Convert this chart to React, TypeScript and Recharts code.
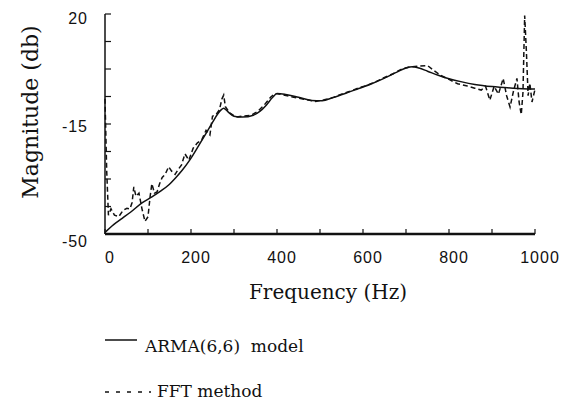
import { LineChart, Line, XAxis, YAxis, Legend } from 'recharts'

// ARMA(6,6) model curve
const armaFreq = [0, 20, 40, 60, 86, 109, 130, 148, 165, 179, 197, 215, 235, 250, 262, 270, 276, 285, 300, 320, 345, 360, 375, 390, 400, 420, 450, 480, 505, 530, 560, 590, 620, 650, 680, 700, 715, 730, 750, 775, 800, 830, 860, 900, 950, 1000]
const armaMag = [-49.5, -47, -45, -43, -40.1, -38.2, -36.3, -34.4, -32, -29.8, -26.5, -22.5, -18, -14.5, -11.8, -10.5, -10, -11, -12.5, -12.8, -12.2, -11, -9, -6.5, -5.3, -5.6, -6.5, -7.5, -7.6, -6.6, -5.2, -3.7, -2.2, -0.4, 1.6, 2.8, 3.2, 2.8, 1.8, 0.5, -0.6, -1.6, -2.4, -3.1, -3.6, -3.9]

// FFT method estimate
const fftFreq = [0, 4, 8, 14, 22, 32, 42, 51, 58, 63, 67, 72, 79, 86, 93, 100, 105, 109, 115, 121, 127, 133, 140, 148, 155, 163, 170, 178, 186, 195, 205, 215, 225, 235, 244, 250, 258, 266, 272, 276, 280, 290, 305, 320, 340, 355, 370, 385, 395, 410, 430, 450, 470, 490, 510, 530, 550, 570, 590, 610, 630, 650, 670, 690, 710, 730, 750, 765, 780, 800, 820, 840, 860, 875, 885, 895, 905, 915, 926, 934, 942, 950, 958, 963, 968, 972, 976, 980, 984, 988, 993, 1000]
const fftMag = [-7, -30, -44, -42, -44, -44.5, -42.5, -41.8, -42, -40, -35, -38, -37, -42, -46, -44.5, -38, -34, -37, -36.6, -34, -32, -31, -28.6, -30, -31, -29.5, -28, -24.5, -26.5, -22.7, -21, -20, -17, -18.5, -12.5, -12, -10.5, -7, -5.8, -9.5, -11.5, -12.8, -12.5, -12.2, -11, -9, -6.5, -5.3, -5.6, -6.2, -6.8, -7.3, -7.8, -7.3, -6.6, -5.5, -4.6, -3.5, -2.7, -1.5, -0.2, 1, 2.5, 3.2, 3.4, 3.6, 2, 0.5, -0.8, -2.2, -2.8, -3.6, -4.2, -3, -7.4, -3, -5.5, -0.5, -6, -9.6, -4.5, -0.5, -8, -12, -5, 19.5, 8, -6, -2, -8, -4]

const xTicks = [0, 100, 200, 300, 400, 500, 600, 700, 800, 900, 1000]
const xLabelled = [0, 200, 400, 600, 800, 1000]
const yTicks = [20, 11.25, 2.5, -6.25, -15, -23.75, -32.5, -41.25, -50]
const yLabelled = [20, -15, -50]

const ink = '#111'
const serif = '"DejaVu Serif", serif'
const sans = '"Liberation Sans", Arial, sans-serif'

const armaData = armaFreq.map((f, i) => ({ freq: f, arma: armaMag[i] }))
const fftData = fftFreq.map((f, i) => ({ freq: f, fft: fftMag[i] }))

// inward tick marks, labels only on some of them
function BottomTick({ x, y, payload }: any) {
  const v = payload.value
  return (
    <g>
      <line x1={x} y1={y} x2={x} y2={y - 5} stroke={ink} strokeWidth={1.2} />
      {xLabelled.includes(v) && (
        <text x={x + 5} y={y + 29} textAnchor="middle" fontFamily={sans} fontSize={16} letterSpacing={1} fill={ink}>
          {v}
        </text>
      )}
    </g>
  )
}

function TopTick({ x, y }: any) {
  return <line x1={x} y1={y} x2={x} y2={y + 4} stroke={ink} strokeWidth={1.2} />
}

function LeftTick({ x, y, payload }: any) {
  const v = payload.value
  const dy = v === -50 ? 13 : v === 20 ? 10 : 8
  return (
    <g>
      <line x1={x} y1={y} x2={x + 6} y2={y} stroke={ink} strokeWidth={1.2} />
      {yLabelled.includes(v) && (
        <text x={x - 17} y={y + dy} textAnchor="end" fontFamily={sans} fontSize={16} letterSpacing={1} fill={ink}>
          {v}
        </text>
      )}
    </g>
  )
}

function RightTick({ x, y }: any) {
  return <line x1={x} y1={y} x2={x - 6} y2={y} stroke={ink} strokeWidth={1.2} />
}

function XTitle({ viewBox }: any) {
  const { x, y, width } = viewBox
  return (
    <text x={x + width / 2 + 8} y={y + 65} textAnchor="middle" fontFamily={serif} fontSize={20} fill={ink}>
      Frequency (Hz)
    </text>
  )
}

function YTitle() {
  return (
    <text x={30} y={112} transform="rotate(-90 30 112)" textAnchor="middle" dominantBaseline="central" fontFamily={serif} fontSize={22} fill={ink}>
      Magnitude (db)
    </text>
  )
}

function LegendBlock() {
  return (
    <svg width={320} height={80}>
      <line x1={105} y1={15} x2={137} y2={15} stroke={ink} strokeWidth={1.5} />
      <text x={145} y={27} fontFamily={serif} fontSize={17} fill={ink} style={{ whiteSpace: 'pre' }}>
        {'ARMA(6,6)  model'}
      </text>
      <line x1={105} y1={67} x2={151} y2={67} stroke={ink} strokeWidth={1.5} strokeDasharray="4 7" />
      <text x={157} y={72} fontFamily={serif} fontSize={17} fill={ink}>FFT method</text>
    </svg>
  )
}

export default function App() {
  return (
    <div style={{ position: 'absolute', left: 0, top: 0, background: '#fff' }}>
      <LineChart width={576} height={401} margin={{ top: 14, right: 41, left: 45, bottom: 137 }}>
        <XAxis
          dataKey="freq"
          type="number"
          domain={[0, 1000]}
          ticks={xTicks}
          interval={0}
          height={30}
          tickSize={0}
          tickMargin={0}
          tickLine={false}
          tick={<BottomTick />}
          axisLine={{ stroke: ink, strokeWidth: 2.5 }}
          label={<XTitle />}
        />
        <XAxis
          xAxisId="top"
          orientation="top"
          dataKey="freq"
          type="number"
          domain={[0, 1000]}
          ticks={xTicks}
          interval={0}
          height={0}
          tickSize={0}
          tickMargin={0}
          tickLine={false}
          tick={<TopTick />}
          axisLine={{ stroke: ink, strokeWidth: 1.5 }}
        />
        <YAxis
          type="number"
          domain={[-50, 20]}
          ticks={yTicks}
          interval={0}
          width={60}
          tickSize={0}
          tickMargin={0}
          tickLine={false}
          tick={<LeftTick />}
          axisLine={{ stroke: ink, strokeWidth: 1.5 }}
          label={<YTitle />}
        />
        <YAxis
          yAxisId="right"
          orientation="right"
          type="number"
          domain={[-50, 20]}
          ticks={yTicks}
          interval={0}
          width={0}
          tickSize={0}
          tickMargin={0}
          tickLine={false}
          tick={<RightTick />}
          axisLine={{ stroke: ink, strokeWidth: 1.5 }}
        />
        <Line
          data={armaData}
          dataKey="arma"
          type="monotone"
          stroke={ink}
          strokeWidth={1.5}
          dot={false}
          isAnimationActive={false}
        />
        <Line
          data={fftData}
          dataKey="fft"
          type="linear"
          stroke={ink}
          strokeWidth={1.5}
          strokeDasharray="5 3"
          dot={false}
          isAnimationActive={false}
        />
        <Legend
          layout="horizontal"
          verticalAlign="middle"
          align="center"
          wrapperStyle={{ left: 0, top: 325, width: 320, height: 80 }}
          content={() => <LegendBlock />}
        />
      </LineChart>
    </div>
  )
}
